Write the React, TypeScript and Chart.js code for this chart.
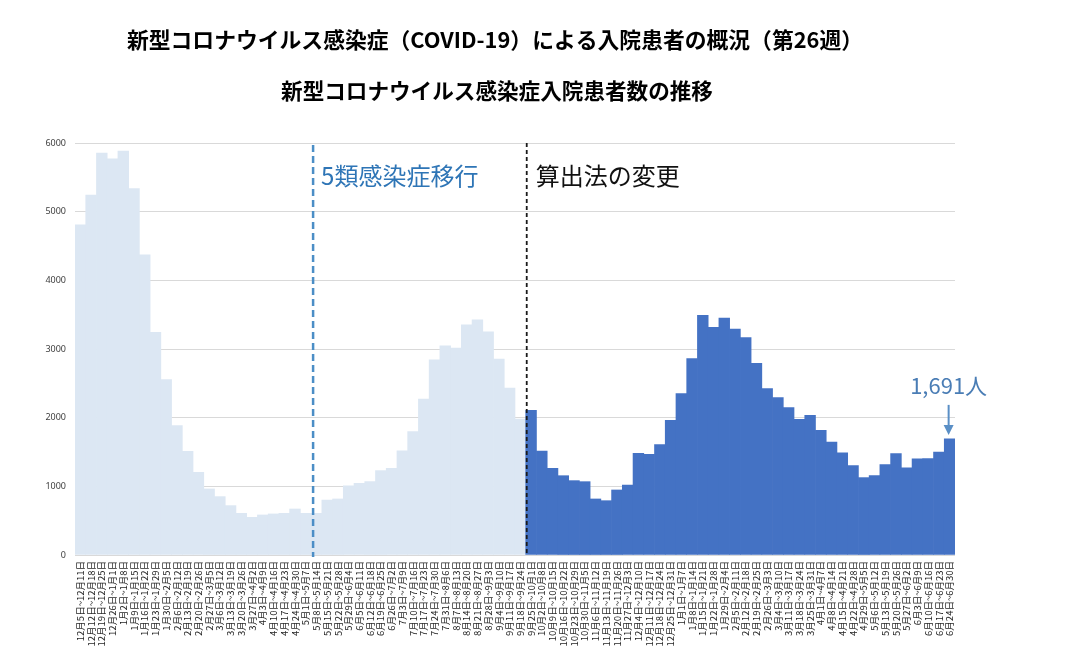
import React, { useEffect, useRef } from "react";
import { Chart, registerables } from "chart.js";

Chart.register(...registerables);

const TITLE = "新型コロナウイルス感染症（COVID-19）による入院患者の概況（第26週）";
const SUBTITLE = "新型コロナウイルス感染症入院患者数の推移";
const CLASS5_TEXT = "5類感染症移行";
const METHOD_TEXT = "算出法の変更";
const LAST_TEXT = "1,691人";

const weekLabels = [
  "12月5日~12月11日", "12月12日~12月18日", "12月19日~12月25日", "12月26日~1月1日",
  "1月2日~1月8日", "1月9日~1月15日", "1月16日~1月22日", "1月23日~1月29日",
  "1月30日~2月5日", "2月6日~2月12日", "2月13日~2月19日", "2月20日~2月26日",
  "2月27日~3月5日", "3月6日~3月12日", "3月13日~3月19日", "3月20日~3月26日",
  "3月27日~4月2日", "4月3日~4月9日", "4月10日~4月16日", "4月17日~4月23日",
  "4月24日~4月30日", "5月1日~5月7日", "5月8日~5月14日", "5月15日~5月21日",
  "5月22日~5月28日", "5月29日~6月4日", "6月5日~6月11日", "6月12日~6月18日",
  "6月19日~6月25日", "6月26日~7月2日", "7月3日~7月9日", "7月10日~7月16日",
  "7月17日~7月23日", "7月24日~7月30日", "7月31日~8月6日", "8月7日~8月13日",
  "8月14日~8月20日", "8月21日~8月27日", "8月28日~9月3日", "9月4日~9月10日",
  "9月11日~9月17日", "9月18日~9月24日", "9月25日~10月1日", "10月2日~10月8日",
  "10月9日~10月15日", "10月16日~10月22日", "10月23日~10月29日", "10月30日~11月5日",
  "11月6日~11月12日", "11月13日~11月19日", "11月20日~11月26日", "11月27日~12月3日",
  "12月4日~12月10日", "12月11日~12月17日", "12月18日~12月24日", "12月25日~12月31日",
  "1月1日~1月7日", "1月8日~1月14日", "1月15日~1月21日", "1月22日~1月28日",
  "1月29日~2月4日", "2月5日~2月11日", "2月12日~2月18日", "2月19日~2月25日",
  "2月26日~3月3日", "3月4日~3月10日", "3月11日~3月17日", "3月18日~3月24日",
  "3月25日~3月31日", "4月1日~4月7日", "4月8日~4月14日", "4月15日~4月21日",
  "4月22日~4月28日", "4月29日~5月5日", "5月6日~5月12日", "5月13日~5月19日",
  "5月20日~5月26日", "5月27日~6月2日", "6月3日~6月9日", "6月10日~6月16日",
  "6月17日~6月23日", "6月24日~6月30日",
];

const inpatients = [
  4810, 5243, 5855, 5768, 5884, 5335, 4373, 3241, 2556, 1885, 1511, 1205,
  962, 850, 719, 607, 549, 583, 598, 607, 670, 607, 607, 800,
  816, 1006, 1045, 1069, 1229, 1263, 1516, 1798, 2269, 2843, 3047, 3013,
  3353, 3426, 3251, 2852, 2430, 1978, 2107, 1515, 1262, 1155, 1083, 1068,
  816, 791, 947, 1019, 1481, 1466, 1607, 1961, 2350, 2859, 3490, 3316,
  3451, 3291, 3165, 2791, 2424, 2293, 2146, 1976, 2034, 1815, 1644, 1488,
  1302, 1127, 1156, 1317, 1478, 1268, 1400, 1405, 1498, 1691,
];

const yTickValues = [0, 1000, 2000, 3000, 4000, 5000, 6000];

const CLASS5_INDEX = 22; // first week after the move to Class 5
const METHOD_CHANGE_INDEX = 42; // first week of the new calculation method

const LIGHT = "#dce7f3";
const DARK = "#4472c4";

const overlayPlugin = {
  id: "overlay",
  afterDatasetsDraw(chart: any) {
    const { ctx, chartArea, scales } = chart;
    const x = scales.x;
    const y = scales.y;
    const half = (x.getPixelForValue(1) - x.getPixelForValue(0)) / 2;
    const xBlue = x.getPixelForValue(CLASS5_INDEX) - half + 2;
    const xBlack = x.getPixelForValue(METHOD_CHANGE_INDEX) - half + 1;
    ctx.save();

    ctx.strokeStyle = "#4b8ec6";
    ctx.lineWidth = 2.5;
    ctx.setLineDash([7, 4]);
    ctx.beginPath();
    ctx.moveTo(xBlue, chartArea.top + 2);
    ctx.lineTo(xBlue, chartArea.bottom + 2);
    ctx.stroke();

    ctx.strokeStyle = "#1a1a1a";
    ctx.lineWidth = 1.8;
    ctx.setLineDash([4, 3]);
    ctx.beginPath();
    ctx.moveTo(xBlack, chartArea.top);
    ctx.lineTo(xBlack, chartArea.bottom);
    ctx.stroke();
    ctx.setLineDash([]);

    ctx.font = '24px "Noto Sans CJK JP"';
    ctx.textBaseline = "middle";
    ctx.textAlign = "left";
    ctx.fillStyle = "#2e75b6";
    ctx.fillText(CLASS5_TEXT, xBlue + 8, chartArea.top + 33);
    ctx.fillStyle = "#111111";
    ctx.fillText(METHOD_TEXT, xBlack + 9, chartArea.top + 33);

    // last value callout
    const last = inpatients.length - 1;
    const bx = x.getPixelForValue(last) - 1;
    const by = y.getPixelForValue(inpatients[last]);
    ctx.fillStyle = "#4a7db5";
    ctx.font = '22px "Noto Sans CJK JP"';
    ctx.textAlign = "center";
    ctx.fillText(LAST_TEXT, bx, by - 53);
    ctx.strokeStyle = "#5a8fc6";
    ctx.lineWidth = 2;
    ctx.beginPath();
    ctx.moveTo(bx, by - 34);
    ctx.lineTo(bx, by - 12);
    ctx.stroke();
    ctx.beginPath();
    ctx.moveTo(bx - 5, by - 14);
    ctx.lineTo(bx + 5, by - 14);
    ctx.lineTo(bx, by - 4);
    ctx.closePath();
    ctx.fillStyle = "#5a8fc6";
    ctx.fill();
    ctx.restore();
  },
  afterDraw(chart: any) {
    const { ctx } = chart;
    ctx.save();
    ctx.fillStyle = "#000000";
    ctx.textAlign = "center";
    ctx.textBaseline = "middle";
    ctx.font = 'bold 21.8px "Noto Sans CJK JP"';
    ctx.fillText(TITLE, 495, 40);
    ctx.font = 'bold 21.6px "Noto Sans CJK JP"';
    ctx.fillText(SUBTITLE, 497, 91);
    ctx.restore();
  },
};

export default function App() {
  const canvasRef = useRef<HTMLCanvasElement | null>(null);

  useEffect(() => {
    document.body.style.margin = "0";
    const canvas = canvasRef.current;
    if (!canvas) return;
    const chart = new Chart(canvas, {
      type: "bar",
      data: {
        labels: weekLabels,
        datasets: [
          {
            label: "入院患者数",
            data: inpatients,
            backgroundColor: inpatients.map((_, i) => (i >= METHOD_CHANGE_INDEX ? DARK : LIGHT)),
            borderWidth: 0,
            barPercentage: 1,
            categoryPercentage: 1,
          },
        ],
      },
      options: {
        responsive: false,
        animation: false,
        devicePixelRatio: 1,
        layout: { padding: { top: 143, left: 0, right: 117, bottom: 4 } },
        plugins: {
          legend: { display: false },
          title: { display: false },
          tooltip: { enabled: false },
        },
        scales: {
          x: {
            grid: { display: false, drawTicks: false },
            border: { display: false },
            ticks: {
              autoSkip: false,
              maxRotation: 90,
              minRotation: 90,
              padding: 6,
              color: "#262626",
              font: { family: '"Noto Sans CJK JP"', size: 9.5 },
            },
            afterFit: (scale: any) => {
              scale.height = 103;
            },
          },
          y: {
            min: 0,
            max: 6000,
            afterBuildTicks: (scale: any) => {
              scale.ticks = yTickValues.map((v) => ({ value: v }));
            },
            grid: { color: "#d9d9d9", lineWidth: 1, drawTicks: false },
            border: { display: false },
            ticks: {
              padding: 9,
              color: "#404040",
              font: { family: '"Noto Sans"', size: 9 },
              callback: (v: any) => String(v),
            },
            afterFit: (scale: any) => {
              scale.width = 75;
            },
          },
        },
      },
      plugins: [overlayPlugin],
    });
    return () => chart.destroy();
  }, []);

  return (
    <div style={{ width: 1072, height: 662, background: "#ffffff" }}>
      <canvas ref={canvasRef} width={1072} height={662} />
    </div>
  );
}
